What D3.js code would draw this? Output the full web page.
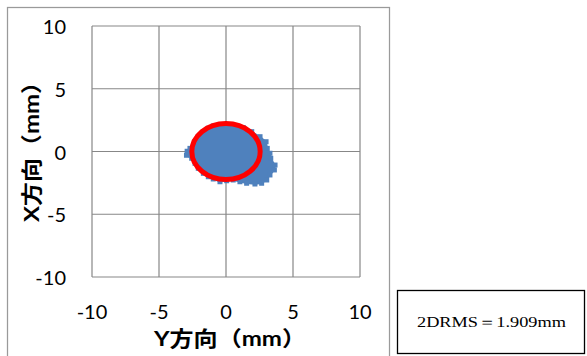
<!DOCTYPE html>
<html>
<head>
<meta charset="utf-8">
<script src="https://cdn.jsdelivr.net/npm/d3@7"></script>
<style>
  html, body { margin: 0; padding: 0; background: #fff; }
  svg { display: block; }
</style>
</head>
<body>
<svg id="chart" width="587" height="356"></svg>
<script>
// Axis ticks (mm)
const xTicks = [-10, -5, 0, 5, 10];
const yTicks = [-10, -5, 0, 5, 10];

// Outline of the positioning cloud, [Y方向, X方向] in mm
const cloudY = [-0.95, -0.20, 0.54, 1.29, 1.92, 2.54, 2.99, 3.08, 3.28, 3.34, 3.66, 3.61, 3.28, 3.04, 2.66, 2.16, 1.54, 1.04, 0.54, 0.05, -0.45, -0.95, -1.32, -1.69, -2.07, -2.31, -2.56, -2.95, -2.90, -2.69, -2.31, -2.07, -1.69, -1.32];
const cloudX = [2.03, 2.11, 1.98, 1.90, 1.58, 1.18, 0.78, 0.25, -0.14, -0.54, -1.08, -1.47, -1.87, -2.27, -2.53, -2.59, -2.53, -2.41, -2.27, -2.33, -2.41, -2.19, -2.01, -1.74, -1.34, -0.94, -0.54, -0.30, 0.02, 0.25, 0.78, 1.18, 1.58, 1.85];

// Reference ring (centre and radii in mm)
const ringCenter = [0, 0];
const ringRadius = [2.55, 2.23];

const statLabel = "2DRMS＝1.909mm";

const svg = d3.select("#chart");

// chart frame
svg.append("rect")
  .attr("x", 7.5).attr("y", 7.5)
  .attr("width", 382).attr("height", 370)
  .attr("fill", "#fff").attr("stroke", "#9a9a9a").attr("stroke-width", 1.25);

const x = d3.scaleLinear().domain([-10, 10]).range([92, 360]);
const y = d3.scaleLinear().domain([-10, 10]).range([277, 26]);

const grid = svg.append("g");
grid.selectAll("line.v").data(xTicks).join("line")
  .attr("class", "v")
  .attr("x1", d => x(d)).attr("x2", d => x(d))
  .attr("y1", y(10)).attr("y2", y(-10))
  .attr("stroke", "#878787").attr("stroke-width", 1.2);
grid.selectAll("line.h").data(yTicks).join("line")
  .attr("class", "h")
  .attr("y1", d => y(d)).attr("y2", d => y(d))
  .attr("x1", x(-10)).attr("x2", x(10))
  .attr("stroke", "#878787").attr("stroke-width", 1.2);

// tick labels
const tickFont = "Lato, 'Open Sans', sans-serif";
svg.append("g").selectAll("text").data(yTicks).join("text")
  .attr("x", 66).attr("y", d => y(d))
  .attr("text-anchor", "end").attr("dominant-baseline", "central")
  .attr("font-family", tickFont).attr("font-size", 20).attr("fill", "#000")
  .text(d => d);
svg.append("g").selectAll("text").data(xTicks).join("text")
  .attr("x", d => x(d)).attr("y", 319)
  .attr("text-anchor", "middle")
  .attr("font-family", tickFont).attr("font-size", 20).attr("fill", "#000")
  .text(d => d);

// axis titles
const titleFont = "Lato, 'Noto Sans CJK JP', sans-serif";
svg.append("text")
  .attr("x", 230).attr("y", 346)
  .attr("text-anchor", "middle")
  .attr("font-family", titleFont).attr("font-weight", "bold").attr("font-size", 21)
  .attr("textLength", 152).attr("lengthAdjust", "spacingAndGlyphs")
  .text("Y方向（mm）");
svg.append("text")
  .attr("transform", "translate(39,146) rotate(-90)")
  .attr("text-anchor", "middle")
  .attr("font-family", titleFont).attr("font-weight", "bold").attr("font-size", 21)
  .attr("textLength", 152).attr("lengthAdjust", "spacingAndGlyphs")
  .text("X方向（mm）");

// positioning cloud
const cloud = cloudY.map((v, i) => [v, cloudX[i]]);
const plot = svg.append("g");
plot.append("path")
  .datum(cloud)
  .attr("d", d3.line().x(d => x(d[0])).y(d => y(d[1])).curve(d3.curveLinearClosed))
  .attr("fill", "#4f81bd").attr("stroke", "#4f81bd").attr("stroke-width", 1.5)
  .attr("stroke-linejoin", "round");
plot.selectAll("rect.pt").data(cloud).join("rect")
  .attr("class", "pt")
  .attr("x", d => x(d[0]) - 2.5).attr("y", d => y(d[1]) - 2.5)
  .attr("width", 5).attr("height", 5)
  .attr("fill", "#4f81bd");

// reference ring
plot.append("ellipse")
  .attr("cx", x(ringCenter[0])).attr("cy", y(ringCenter[1]))
  .attr("rx", x(ringRadius[0]) - x(0))
  .attr("ry", y(0) - y(ringRadius[1]))
  .attr("fill", "none").attr("stroke", "#ff0000").attr("stroke-width", 5);

// statistic box
svg.append("rect")
  .attr("x", 397.5).attr("y", 290.5)
  .attr("width", 187).attr("height", 63)
  .attr("fill", "#fff").attr("stroke", "#000").attr("stroke-width", 1.3);
svg.append("text")
  .attr("x", 417).attr("y", 327)
  .attr("font-family", "'Liberation Serif', 'Times New Roman', serif")
  .attr("font-size", 15)
  .attr("textLength", 149).attr("lengthAdjust", "spacingAndGlyphs")
  .text(statLabel);
</script>
</body>
</html>
